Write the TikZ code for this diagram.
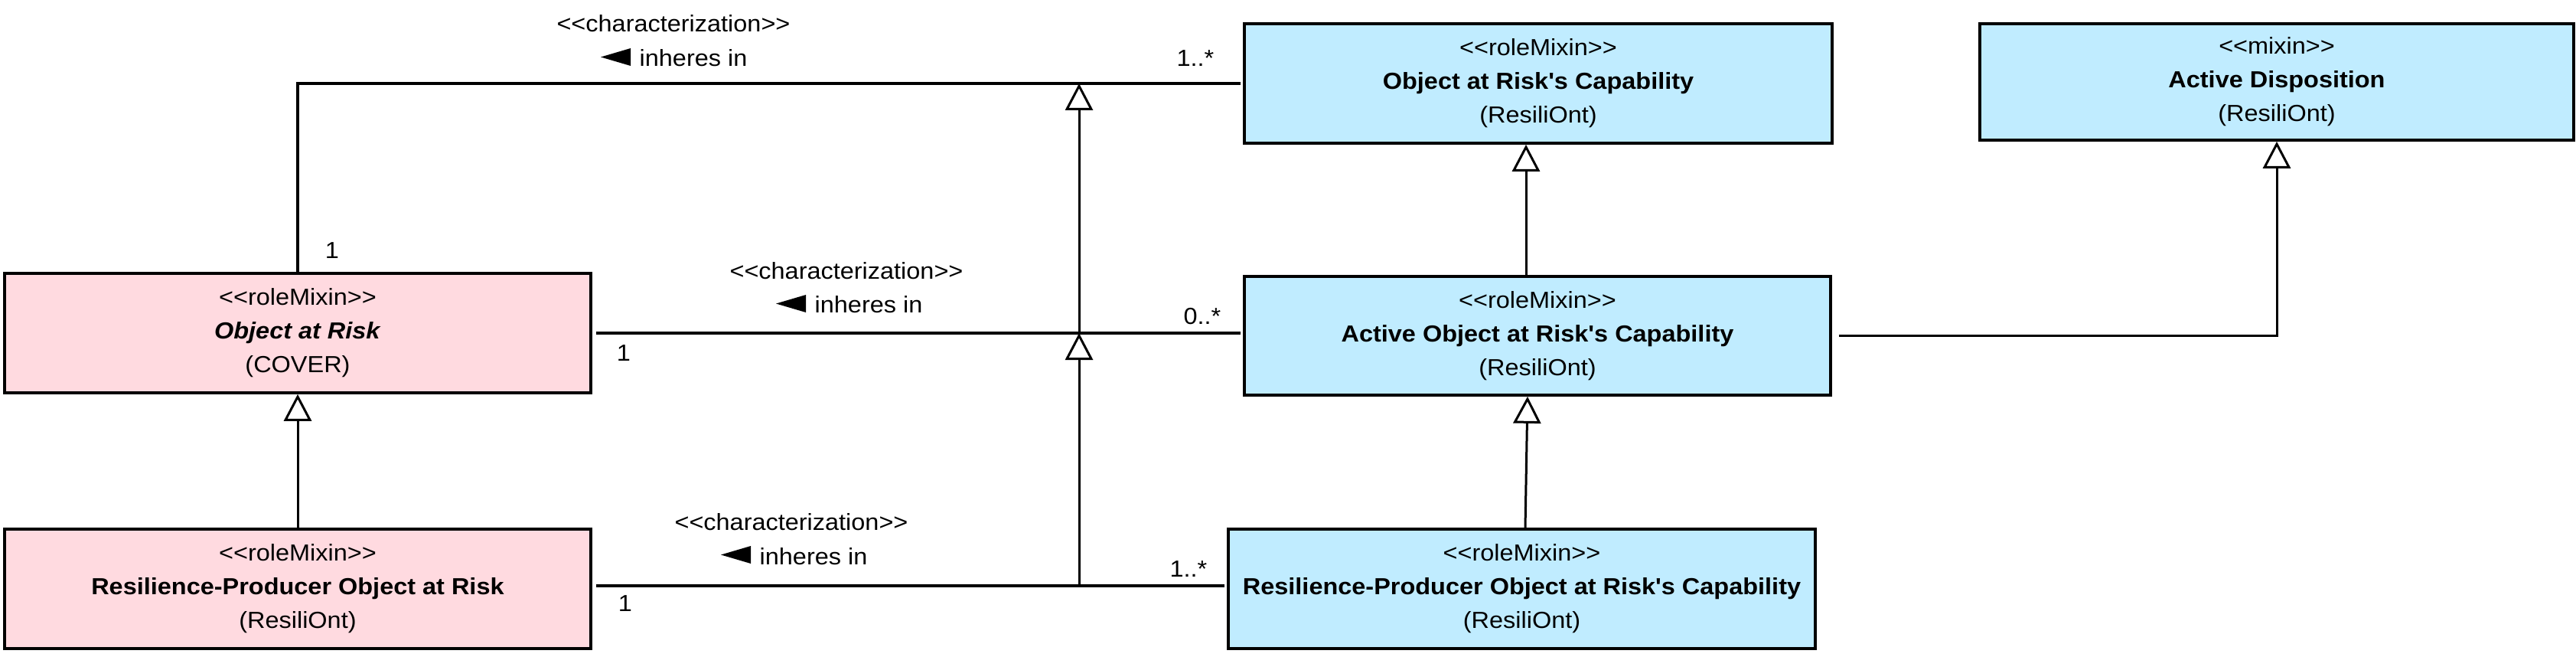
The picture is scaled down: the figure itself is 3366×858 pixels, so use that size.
\documentclass[tikz,border=0pt]{standalone}
\usepackage{fontspec}
\newfontfamily\umlfont{Liberation Sans}[FakeStretch=1.07]
\usetikzlibrary{arrows.meta}
\definecolor{pinkfill}{RGB}{255,218,224}
\definecolor{bluefill}{RGB}{192,236,255}
\begin{document}
\begin{tikzpicture}[x=0.3pt,y=-0.3pt,
  every node/.style={font=\umlfont\fontsize{9.1}{13.2}\selectfont, inner sep=0pt},
  box/.style={draw, line width=1.1pt, align=center, inner sep=0pt},
  pinkbox/.style={box, fill=pinkfill},
  bluebox/.style={box, fill=bluefill},
  assoc/.style={line width=0.95pt},
  gen/.style={line width=0.9pt, -{Triangle[fill=white,length=10.5pt,width=10.8pt]}},
  lbl/.style={anchor=base},
  mult/.style={anchor=base east},
]
\useasboundingbox (0,0) rectangle (3366,858);

% classes
\node[pinkbox, minimum width=229.8pt, minimum height=46.8pt] (oar) at (389,435)
  {<<roleMixin>>\\ \textbf{\textit{Object at Risk}}\\ (COVER)};
\node[pinkbox, minimum width=229.8pt, minimum height=46.8pt] (rpoar) at (389,769)
  {<<roleMixin>>\\ \textbf{Resilience-Producer Object at Risk}\\ (ResiliOnt)};
\node[bluebox, minimum width=230.4pt, minimum height=46.8pt] (oarc) at (2010,109)
  {<<roleMixin>>\\ \textbf{Object at Risk's Capability}\\ (ResiliOnt)};
\node[bluebox, minimum width=229.8pt, minimum height=46.5pt] (aoarc) at (2009,438.5)
  {<<roleMixin>>\\ \textbf{Active Object at Risk's Capability}\\ (ResiliOnt)};
\node[bluebox, minimum width=232.8pt, minimum height=45.6pt] (ad) at (2975,107)
  {<<mixin>>\\ \textbf{Active Disposition}\\ (ResiliOnt)};
\node[bluebox, minimum width=230.1pt, minimum height=46.8pt] (rpoarc) at (1988.5,769)
  {<<roleMixin>>\\ \textbf{Resilience-Producer Object at Risk's Capability}\\ (ResiliOnt)};

% associations
\draw[assoc, shorten >=1pt] (oar.north) |- (oarc.west);
\draw[assoc, shorten <=1.5pt, shorten >=1pt] (oar.east) -- (oar.east -| aoarc.west);
\draw[assoc, shorten <=1.5pt, shorten >=1pt] ([yshift=1.2pt]rpoar.east) -- ([yshift=1.2pt]rpoar.east -| rpoarc.west);

% junctions on association lines
\coordinate (jt) at (1410,109);
\coordinate (jm) at (1410,435);
\coordinate (jb) at (1410,765);

% generalizations
\draw[gen] (jb) -- (jm);
\draw[gen] (jm) -- (jt);
\draw[gen] (rpoar.north) -- (oar.south);
\draw[gen] ([xshift=-4.5pt]aoarc.north) -- ([xshift=-4.5pt]aoarc.north |- oarc.south);
\draw[gen] ([xshift=1.35pt]rpoarc.north) -- ([xshift=-3.9pt]aoarc.south);
\draw[gen, shorten <=2.7pt] (aoarc.east) -| (ad.south);

% association labels
\node[lbl] (st1) at (880,42) {<<characterization>>};
\node[anchor=base west] (ih1) at (835,87) {inheres in};
\fill (ih1.base west) ++(-11,-24) -- ++(0,23) -- ++(-39,-11.5) -- cycle;

\node[lbl] (st2) at (1106,364) {<<characterization>>};
\node[anchor=base west] (ih2) at (1064,409) {inheres in};
\fill (ih2.base west) ++(-11,-24) -- ++(0,23) -- ++(-39,-11.5) -- cycle;

\node[lbl] (st3) at (1034,692) {<<characterization>>};
\node[anchor=base west] (ih3) at (992,737) {inheres in};
\fill (ih3.base west) ++(-11,-24) -- ++(0,23) -- ++(-39,-11.5) -- cycle;

% multiplicities
\node[mult] (m1) at (1587,87) {1..*};
\node[lbl] (m2) at (434,338) {1};
\node[mult] (m3) at (1596,423) {0..*};
\node[lbl] (m4) at (815,471) {1};
\node[mult] (m5) at (1578,753) {1..*};
\node[lbl] (m6) at (817,798) {1};
\end{tikzpicture}
\end{document}
